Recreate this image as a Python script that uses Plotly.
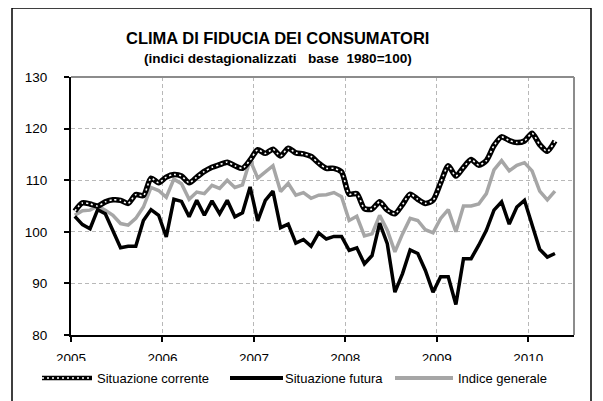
import plotly.graph_objects as go

# ---- data (monthly, Jan 2005 - Apr 2010) ----
years = ["2005", "2006", "2007", "2008", "2009", "2010"]

situazione_corrente = [
    104.0, 105.6, 105.4, 105.0, 105.8, 106.2, 106.1, 105.5, 107.2, 107.0, 110.4, 109.5,
    110.6, 111.1, 110.8, 109.5, 110.6, 111.7, 112.5, 113.0, 113.5, 112.8, 112.3, 113.9,
    115.9, 115.2, 116.0, 114.7, 116.2, 115.3, 115.1, 114.6, 113.3, 112.3, 112.3, 111.6,
    107.3, 107.4, 104.5, 104.4, 105.8, 104.2, 103.5, 105.3, 107.3, 106.3, 105.5, 106.1,
    109.5, 112.8, 110.8, 112.5, 114.0, 112.9, 113.8, 116.7, 118.4, 117.7, 117.3, 117.6,
    119.1, 116.9, 115.6, 117.6,
]

situazione_futura = [
    103.0, 101.4, 100.6, 104.3, 103.5, 100.3, 96.9, 97.2, 97.2, 102.2, 104.3, 103.2,
    99.0, 106.3, 105.9, 102.9, 106.1, 103.2, 106.0, 103.5, 106.1, 102.9, 103.7, 108.7,
    102.1, 106.1, 107.9, 100.8, 101.5, 97.8, 98.5, 97.2, 99.8, 98.6, 99.1, 99.1,
    96.4, 96.9, 93.8, 95.4, 101.7, 97.7, 88.3, 91.9, 96.5, 95.8, 92.5, 88.3,
    91.3, 91.3, 85.9, 94.8, 94.8, 97.4, 100.3, 104.2, 105.8, 101.5, 104.8, 106.1,
    101.5, 96.6, 95.1, 95.8,
]

indice_generale = [
    103.2, 104.1, 104.2, 105.0, 104.2, 103.2, 101.6, 101.3, 102.6, 104.8, 108.6, 108.0,
    106.7, 110.2, 109.3, 106.3, 107.7, 107.4, 109.0, 108.4, 110.0, 108.6, 109.1, 113.9,
    110.4, 111.6, 112.8, 107.8, 109.4, 107.1, 107.6, 106.5, 107.1, 107.2, 107.6, 106.8,
    102.2, 103.0, 99.2, 99.6, 103.2, 100.3, 96.1, 99.6, 102.6, 102.2, 100.4, 99.8,
    102.6, 104.3, 100.0, 105.0, 105.0, 105.4, 107.4, 112.0, 113.8, 111.8, 112.9, 113.4,
    111.8, 107.9, 106.2, 107.9,
]

series_names = ["Situazione corrente", "Situazione futura", "Indice generale"]

n = len(indice_generale)
months = list(range(n))
year_ticks = [12 * k - 0.5 for k in range(len(years))]

# ---- figure geometry (page pixels; the page body has an 8px margin) ----
OFF = 8
W, H = 595, 393
PX0, PX1, PY0, PY1 = 71, 574, 77, 335   # plot area in page pixels
L, R = PX0 - OFF, W - (PX1 - OFF)
T, B = PY0 - OFF, H - (PY1 - OFF)
pw, ph = PX1 - PX0, PY1 - PY0


def px(xp):
    return (xp - PX0) / pw


def py(yp):
    return (PY1 - yp) / ph


GRAY = "#a6a6a6"
GRID = "#b8b8b8"

fig = go.Figure()

fig.add_trace(go.Scatter(
    x=months, y=indice_generale, mode="lines", name=series_names[2],
    line=dict(color=GRAY, width=3.5), showlegend=False,
))
fig.add_trace(go.Scatter(
    x=months, y=situazione_futura, mode="lines", name=series_names[1],
    line=dict(color="black", width=3.5), showlegend=False,
))
fig.add_trace(go.Scatter(
    x=months, y=situazione_corrente, mode="lines", name=series_names[0],
    line=dict(color="black", width=5.5, shape="spline", smoothing=0.7), showlegend=False,
))
fig.add_trace(go.Scatter(
    x=months, y=situazione_corrente, mode="lines", name=series_names[0],
    line=dict(color="white", width=1.6, dash="2px,3px", shape="spline", smoothing=0.7),
    showlegend=False, hoverinfo="skip",
))

shapes = []
# outer frame
shapes.append(dict(type="rect", xref="paper", yref="paper",
                   x0=px(12), x1=px(591), y0=py(430), y1=py(8),
                   line=dict(color="black", width=1.5), layer="above"))
# gray top/right plot borders
shapes.append(dict(type="line", xref="paper", yref="paper", x0=0, x1=1, y0=1, y1=1,
                   line=dict(color="#8c8c8c", width=2), layer="above"))
shapes.append(dict(type="line", xref="paper", yref="paper", x0=1, x1=1, y0=0, y1=1,
                   line=dict(color="#8c8c8c", width=2), layer="above"))
# white band (legend area clipping tick labels)
shapes.append(dict(type="rect", xref="paper", yref="paper",
                   x0=px(20), x1=px(585), y0=py(396), y1=py(361),
                   fillcolor="white", line=dict(width=0), layer="above"))
# legend samples
ly = py(378)
shapes.append(dict(type="line", xref="paper", yref="paper", x0=px(42), x1=px(92), y0=ly, y1=ly,
                   line=dict(color="black", width=4.5), layer="above"))
shapes.append(dict(type="line", xref="paper", yref="paper", x0=px(42), x1=px(92), y0=ly, y1=ly,
                   line=dict(color="white", width=1.4, dash="2px,3px"), layer="above"))
shapes.append(dict(type="line", xref="paper", yref="paper", x0=px(230), x1=px(283), y0=ly, y1=ly,
                   line=dict(color="black", width=4), layer="above"))
shapes.append(dict(type="line", xref="paper", yref="paper", x0=px(395), x1=px(453), y0=ly, y1=ly,
                   line=dict(color=GRAY, width=4), layer="above"))

FONT = "Liberation Sans, Arial, sans-serif"
annotations = [
    dict(text="<b>CLIMA DI FIDUCIA DEI CONSUMATORI</b>", x=px(277), y=py(38),
         xref="paper", yref="paper", showarrow=False, xanchor="center", yanchor="middle",
         font=dict(family=FONT, size=16.5, color="black")),
    dict(text="<b>(indici destagionalizzati   base  1980=100)</b>", x=px(278), y=py(58),
         xref="paper", yref="paper", showarrow=False, xanchor="center", yanchor="middle",
         font=dict(family=FONT, size=13.6, color="black")),
]
for name, xt in zip(series_names, [95, 283, 456]):
    annotations.append(dict(text=name, x=px(xt), y=ly, xref="paper", yref="paper",
                            showarrow=False, xanchor="left", yanchor="middle",
                            font=dict(family=FONT, size=13, color="black")))

fig.update_layout(
    width=W, height=H,
    margin=dict(l=L, r=R, t=T, b=B, pad=0),
    paper_bgcolor="white", plot_bgcolor="white",
    font=dict(family=FONT, size=12, color="black"),
    showlegend=False,
    shapes=shapes,
    annotations=annotations,
    xaxis=dict(
        range=[-0.5, 65.5], tickmode="array", tickvals=year_ticks, ticktext=years,
        showgrid=True, gridcolor=GRID, griddash="4px,3px", gridwidth=1,
        showline=True, linecolor="black", linewidth=2,
        ticks="outside", ticklen=5, tickwidth=1.5, tickcolor="black",
        ticklabelstandoff=5, tickfont=dict(family=FONT, size=13.5),
        zeroline=False, fixedrange=True,
    ),
    yaxis=dict(
        range=[80, 130], dtick=10, tick0=80,
        showgrid=True, gridcolor=GRID, griddash="4px,3px", gridwidth=1,
        showline=True, linecolor="black", linewidth=2,
        ticks="outside", ticklen=5, tickwidth=1.5, tickcolor="black",
        ticklabelstandoff=14, tickfont=dict(family=FONT, size=13.5),
        zeroline=False, fixedrange=True,
    ),
)

fig.write_html("out.html")
